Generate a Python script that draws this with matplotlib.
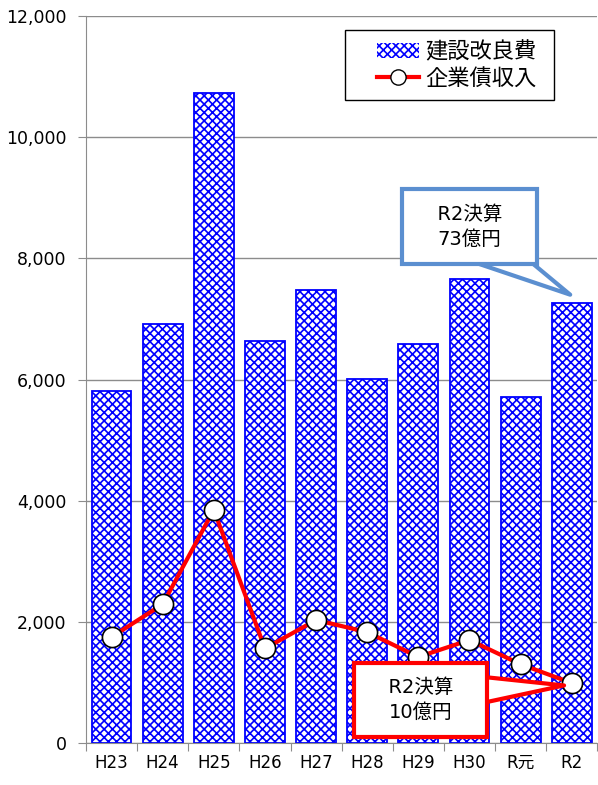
import numpy as np
import matplotlib
matplotlib.use("Agg")
import matplotlib.pyplot as plt
from matplotlib.patches import Patch, Rectangle
from matplotlib.lines import Line2D

plt.rcParams['font.family'] = ['DejaVu Sans', 'Noto Sans CJK JP']
plt.rcParams['hatch.linewidth'] = 1.2

years = ["H23", "H24", "H25", "H26", "H27", "H28", "H29", "H30", "R元", "R2"]
kensetsu = [5810, 6920, 10730, 6630, 7480, 6010, 6590, 7660, 5710, 7260]
kigyosai = [1750, 2290, 3850, 1560, 2030, 1830, 1420, 1700, 1300, 990]

blue = "#0000ff"
red = "#ff0000"
grey = "#8c8c8c"
callout_blue = "#5b8fd0"

fig = plt.figure(figsize=(5.98, 7.85), dpi=100)
ax = fig.add_axes([0.1438, 0.0535, 0.855, 0.9261])

x = np.arange(len(years))
ax.bar(x, kensetsu, width=0.78, color="white", edgecolor=blue, hatch="xxxx",
       linewidth=1.3, zorder=2)
ax.plot(x, kigyosai, color=red, lw=3.0, marker="o", markersize=14.5,
        markerfacecolor="white", markeredgecolor="black", markeredgewidth=1.2,
        zorder=4)

ax.set_xlim(-0.5, 9.5)
ax.set_ylim(0, 12000)
ax.set_yticks(np.arange(0, 12001, 2000))
ax.set_yticklabels([f"{v:,}" for v in range(0, 12001, 2000)], fontsize=12.5)
ax.yaxis.grid(True, color=grey, lw=1.0, zorder=0)
ax.set_axisbelow(True)

ax.set_xticks(np.arange(-0.5, 10, 1))
ax.set_xticklabels([])
ax.set_xticks(x, minor=True)
ax.set_xticklabels(years, minor=True, fontsize=12)
ax.tick_params(axis="x", which="minor", length=0, pad=8)
ax.tick_params(axis="x", which="major", length=6, color=grey, direction="out")
ax.tick_params(axis="y", length=6, color=grey, direction="out", pad=8)

for s in ["top", "right"]:
    ax.spines[s].set_visible(False)
ax.spines["left"].set_color(grey)
ax.spines["bottom"].set_color(grey)

# legend frame drawn separately (wider left margin than legend's own padding)
ax.add_patch(Rectangle((0.506, 0.884), 0.41, 0.097, transform=ax.transAxes,
                       fc="white", ec="black", lw=1.0, zorder=5))
handles = [Patch(facecolor="white", edgecolor=blue, hatch="xxxx", lw=0),
           Line2D([], [], color=red, lw=3.0, marker="o", markersize=11,
                  markerfacecolor="white", markeredgecolor="black")]
leg = ax.legend(handles, ["建設改良費", "企業債収入"], loc="center",
                bbox_to_anchor=(0.725, 0.933), fontsize=16, frameon=False,
                handlelength=1.9, handletextpad=0.3, borderpad=0.2,
                labelspacing=0.25)
leg.set_zorder(6)

ax.annotate("　R2決算　\n73億円", xy=(8.97, 7400), xytext=(7.0, 8520),
            ha="center", va="center", fontsize=14, linespacing=1.4,
            bbox=dict(boxstyle="square,pad=0.8", fc="white", ec=callout_blue, lw=3),
            arrowprops=dict(arrowstyle="wedge,tail_width=1.8,shrink_factor=0.5",
                            fc="white", ec=callout_blue, lw=3, relpos=(0.68, 0.0),
                            patchA=None, shrinkA=0, shrinkB=0),
            zorder=7)
ax.annotate("　R2決算　\n10億円", xy=(8.85, 950), xytext=(6.05, 710),
            ha="center", va="center", fontsize=14, linespacing=1.4,
            bbox=dict(boxstyle="square,pad=0.75", fc="white", ec=red, lw=3),
            arrowprops=dict(arrowstyle="wedge,tail_width=1.5,shrink_factor=0.5",
                            fc="white", ec=red, lw=3, relpos=(1.0, 0.72),
                            patchA=None, shrinkA=0, shrinkB=0),
            zorder=7)

fig.savefig("out.png", dpi=100)
